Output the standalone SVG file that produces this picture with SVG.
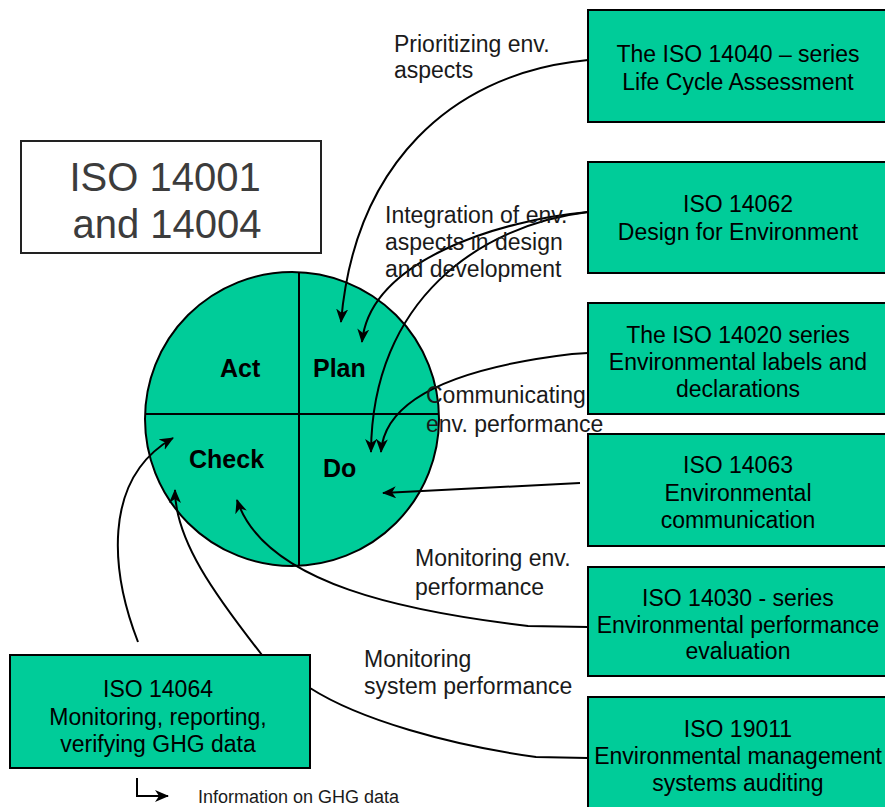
<svg xmlns="http://www.w3.org/2000/svg" width="885" height="807" viewBox="0 0 885 807">
<style>
.box{fill:#00cc99;stroke:#000;stroke-width:2}
.bt{font-family:"Liberation Sans",Arial,sans-serif;font-size:23px;fill:#000;text-anchor:middle}
.lb{font-family:"Liberation Sans",Arial,sans-serif;font-size:23px;fill:#1a1a1a}
.pd{font-family:"Liberation Sans",Arial,sans-serif;font-size:25px;font-weight:bold;fill:#000}
.ttl{font-family:"Liberation Sans",Arial,sans-serif;font-size:40px;fill:#3c3c3c;text-anchor:middle}
.cn{fill:none;stroke:#000;stroke-width:2}
.ar{marker-end:url(#ah)}
</style>
<defs>
<marker id="ah" markerUnits="userSpaceOnUse" markerWidth="16" markerHeight="14" refX="13" refY="6" orient="auto">
<path d="M0,0 L14,6 L0,12 L4,6 z" fill="#000"/>
</marker>
</defs>
<rect width="885" height="807" fill="#fff"/>

<g id="title">
<rect x="21" y="141" width="300" height="112" fill="#fff" stroke="#222" stroke-width="2"/>
<text class="ttl" x="165" y="191">ISO 14001</text>
<text class="ttl" x="167" y="238">and 14004</text>
</g>

<g id="pdca">
<circle cx="292" cy="419" r="147" fill="#00cc99" stroke="#000" stroke-width="2"/>
<line x1="145" y1="414" x2="439" y2="414" stroke="#000" stroke-width="2"/>
<line x1="299" y1="272" x2="299" y2="566" stroke="#000" stroke-width="2"/>
<text class="pd" x="220" y="377">Act</text>
<text class="pd" x="313" y="377">Plan</text>
<text class="pd" x="189" y="468">Check</text>
<text class="pd" x="323" y="477">Do</text>
</g>

<g id="iso14040">
<rect class="box" x="588" y="10" width="300" height="112"/>
<text class="bt" x="738" y="62">The ISO 14040 – series</text>
<text class="bt" x="738" y="90">Life Cycle Assessment</text>
</g>
<g id="iso14062">
<rect class="box" x="588" y="162" width="300" height="111"/>
<text class="bt" x="738" y="212">ISO 14062</text>
<text class="bt" x="738" y="240">Design for Environment</text>
</g>
<g id="iso14020">
<rect class="box" x="588" y="303" width="300" height="111"/>
<text class="bt" x="738" y="343">The ISO 14020 series</text>
<text class="bt" x="738" y="370">Environmental labels and</text>
<text class="bt" x="738" y="397">declarations</text>
</g>
<g id="iso14063">
<rect class="box" x="588" y="434" width="300" height="112"/>
<text class="bt" x="738" y="473">ISO 14063</text>
<text class="bt" x="738" y="501">Environmental</text>
<text class="bt" x="738" y="528">communication</text>
</g>
<g id="iso14030">
<rect class="box" x="588" y="567" width="300" height="109"/>
<text class="bt" x="738" y="606">ISO 14030 - series</text>
<text class="bt" x="738" y="633">Environmental performance</text>
<text class="bt" x="738" y="659">evaluation</text>
</g>
<g id="iso19011">
<rect class="box" x="588" y="697" width="300" height="112"/>
<text class="bt" x="738" y="737">ISO 19011</text>
<text class="bt" x="738" y="764">Environmental management</text>
<text class="bt" x="738" y="791">systems auditing</text>
</g>
<g id="iso14064">
<rect class="box" x="10" y="655" width="300" height="113"/>
<text class="bt" x="158" y="697">ISO 14064</text>
<text class="bt" x="158" y="725">Monitoring, reporting,</text>
<text class="bt" x="158" y="752">verifying GHG data</text>
</g>

<g id="connectors">
<path class="cn ar" d="M588,60 L572,62 C455,78 355,160 341,322"/>
<path class="cn ar" d="M588,212 C500,220 370,260 362,342"/>
<path class="cn ar" d="M588,212 C480,225 372,300 371,452"/>
<path class="cn ar" d="M588,353 L572,354 C480,365 385,390 381,452"/>
<path class="cn ar" d="M580,483 L522,486 L383,493"/>
<path class="cn ar" d="M588,627 L528,626 C410,612 265,585 237,500"/>
<path class="cn ar" d="M262,655 C215,595 175,540 175,490"/>
<path class="cn ar" d="M138,642 C112,575 100,480 173,438"/>
<path class="cn" d="M588,758 L536,757 C450,745 360,720 310,688"/>
<path class="cn ar" d="M137,778 L137,796 L168,796"/>
</g>

<g id="labels">
<text class="lb" x="394" y="52">Prioritizing env.</text>
<text class="lb" x="394" y="78">aspects</text>
<text class="lb" x="385" y="223">Integration of env.</text>
<text class="lb" x="385" y="250">aspects in design</text>
<text class="lb" x="385" y="277">and development</text>
<text class="lb" x="426" y="403">Communicating</text>
<text class="lb" x="426" y="432">env. performance</text>
<text class="lb" x="415" y="566">Monitoring env.</text>
<text class="lb" x="415" y="595">performance</text>
<text class="lb" x="364" y="667">Monitoring</text>
<text class="lb" x="364" y="694">system performance</text>
<text class="lb" x="198" y="803" style="font-size:18px">Information on GHG data</text>
</g>
</svg>
